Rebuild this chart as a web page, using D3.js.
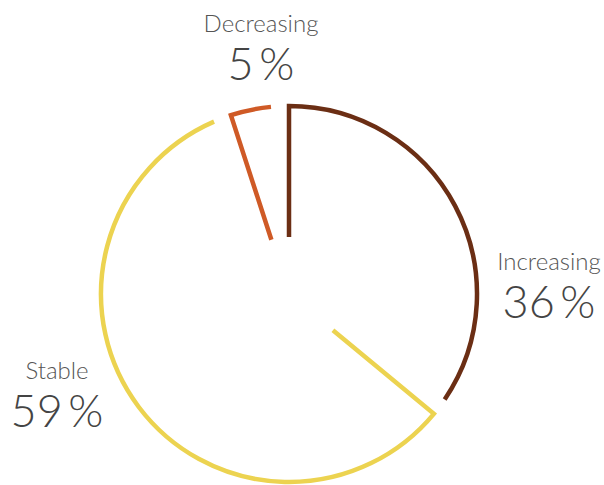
<!DOCTYPE html>
<html>
<head>
<meta charset="utf-8"/>
<style>
  body { margin: 0; background: #fff; }
  svg { display: block; }
  .name { font-family: Lato, "Liberation Sans", sans-serif; font-weight: 300; fill: #555; }
  .pct { font-family: Lato, "Liberation Sans", sans-serif; font-weight: 300; fill: #444; }
</style>
</head>
<body>
<svg id="chart"></svg>
<script src="https://d3js.org/d3.v7.min.js"></script>
<script>
// Data
var categories = ['Increasing', 'Stable', 'Decreasing'];
var shares = [36, 59, 5];
var colors = ['#6b2e14', '#ecd350', '#cf5a26'];

// Layout
var config = {
  width: 604,
  height: 485,
  cx: 289,
  cy: 294,
  outerRadius: 188,
  innerRadius: 57,
  endGap: 5.5 * Math.PI / 180, // each outline stops short of the next slice
  strokeWidth: 4.5
};
// label anchor points (centre of the text block), per category
var labelPos = {
  'Increasing': [549, 270],
  'Stable': [57, 379],
  'Decreasing': [261, 32]
};

var svg = d3.select('#chart')
  .attr('width', config.width)
  .attr('height', config.height);

var g = svg.append('g')
  .attr('transform', 'translate(' + config.cx + ',' + config.cy + ')');

var pie = d3.pie().sort(null).value(function(d) { return d; });
var arcs = pie(shares);

// open outline: inner point -> radial line -> outer arc, never closed
function slicePath(a) {
  var p = d3.path();
  var s = a.startAngle - Math.PI / 2;
  var e = a.endAngle - config.endGap - Math.PI / 2;
  p.moveTo(config.innerRadius * Math.cos(s), config.innerRadius * Math.sin(s));
  p.lineTo(config.outerRadius * Math.cos(s), config.outerRadius * Math.sin(s));
  p.arc(0, 0, config.outerRadius, s, e, false);
  return p.toString();
}

g.selectAll('path.slice')
  .data(arcs)
  .enter().append('path')
  .attr('class', 'slice')
  .attr('d', slicePath)
  .attr('fill', 'none')
  .attr('stroke', function(d, i) { return colors[i]; })
  .attr('stroke-width', config.strokeWidth)
  .attr('stroke-linejoin', 'miter');

// labels
var labels = svg.selectAll('g.label')
  .data(categories)
  .enter().append('g')
  .attr('class', 'label')
  .attr('transform', function(d) { return 'translate(' + labelPos[d][0] + ',' + labelPos[d][1] + ')'; });

labels.append('text')
  .attr('class', 'name')
  .attr('text-anchor', 'middle')
  .attr('font-size', 24)
  .text(function(d) { return d; });

labels.append('text')
  .attr('class', 'pct')
  .attr('text-anchor', 'middle')
  .attr('y', 48)
  .attr('font-size', 45)
  .text(function(d, i) { return shares[i] + '\u2009%'; });
</script>
</body>
</html>
